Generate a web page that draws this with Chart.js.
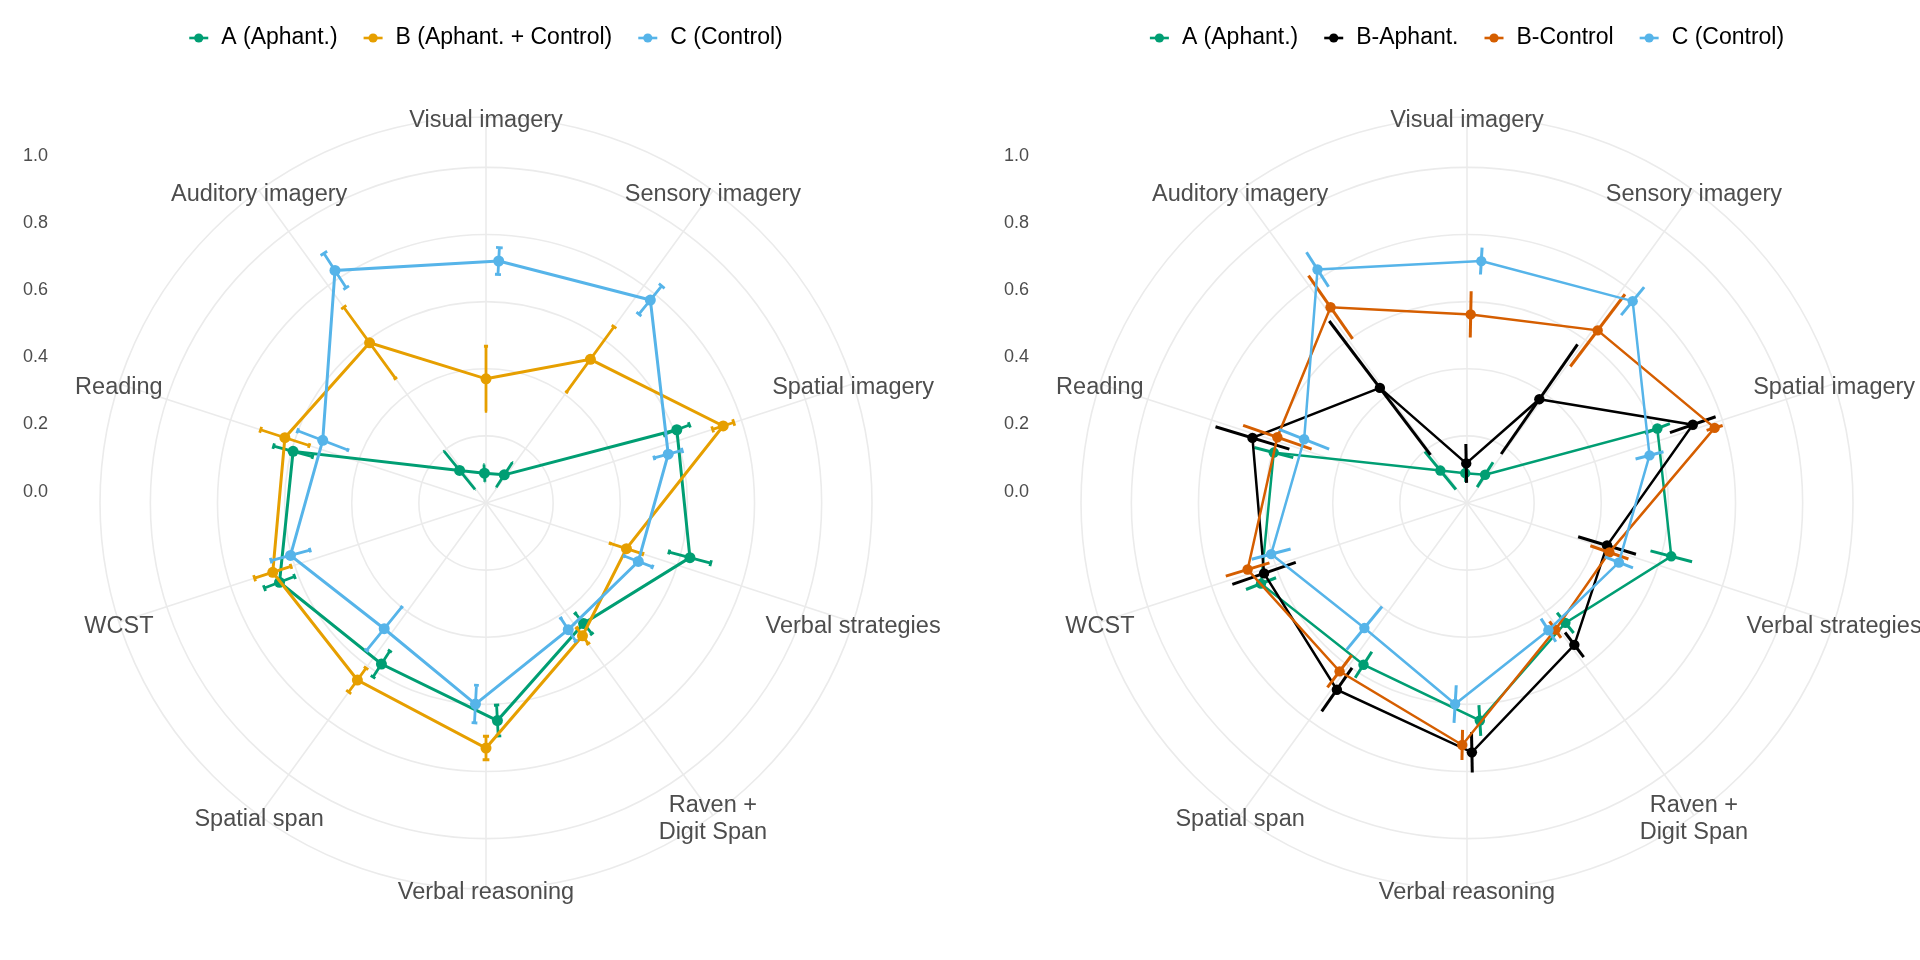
<!DOCTYPE html>
<html>
<head>
<meta charset="utf-8">
<title>Imagery profiles - radar</title>
<script src="https://cdn.jsdelivr.net/npm/chart.js@4.4.1/dist/chart.umd.min.js"></script>
<style>
    html, body { margin: 0; padding: 0; background: #ffffff; }
    body { width: 1920px; height: 960px; position: relative; overflow: hidden; }
    .panel { position: absolute; top: 0; height: 960px; }
    #panel-left { left: 0; width: 975px; }
    #panel-right { left: 981px; width: 939px; }
</style>
</head>
<body>
<div class="panel" id="panel-left"><canvas id="leftChart"></canvas></div>
<div class="panel" id="panel-right"><canvas id="rightChart"></canvas></div>

<script>
// Radar profiles: left panel has the three groups, right panel splits group B

const categories = [
    'Visual imagery', 'Sensory imagery', 'Spatial imagery', 'Verbal strategies',
    ['Raven +', 'Digit Span'], 'Verbal reasoning', 'Spatial span', 'WCST',
    'Reading', 'Auditory imagery'
];

// radial axis labels on the left
const tickValues = [0, 0.2, 0.4, 0.6, 0.8, 1.0];
// grid rings (sit just under each 0.2 label), last one is the outer circle
const ringValues = [0.16, 0.36, 0.56, 0.76, 0.96, 1.11];

// group means and error bar half-widths, in category order
const groupA = [0.049, 0.060, 0.569, 0.589, 0.422, 0.609, 0.532, 0.619, 0.555, 0.085];
const errA = [0.026, 0.044, 0.040, 0.064, 0.039, 0.046, 0.046, 0.048, 0.060, 0.073];

const groupB = [0.330, 0.489, 0.703, 0.400, 0.449, 0.690, 0.612, 0.628, 0.590, 0.550];
const errB = [0.097, 0.120, 0.033, 0.051, 0.029, 0.035, 0.044, 0.057, 0.076, 0.131];

const groupC = [0.682, 0.738, 0.522, 0.446, 0.410, 0.560, 0.442, 0.563, 0.481, 0.786];
const errC = [0.040, 0.054, 0.043, 0.045, 0.041, 0.056, 0.083, 0.060, 0.080, 0.061];

const groupBAphant = [0.078, 0.337, 0.672, 0.396, 0.490, 0.703, 0.638, 0.600, 0.628, 0.390];
const errBAphant = [0.058, 0.199, 0.072, 0.090, 0.046, 0.060, 0.079, 0.100, 0.115, 0.250];

const groupBControl = [0.522, 0.605, 0.731, 0.409, 0.420, 0.681, 0.589, 0.643, 0.558, 0.671];
const errBControl = [0.069, 0.135, 0.025, 0.060, 0.030, 0.045, 0.060, 0.068, 0.108, 0.115];

const COLORS = {
    A: '#009E73',
    B: '#E69F00',
    C: '#56B4E9',
    BAphant: '#000000',
    BControl: '#D55E00'
};

const FONT = '"Liberation Sans", Arial, Helvetica, sans-serif';
const TEXT_GREY = '#4D4D4D';
const GRID_GREY = '#EBEBEB';

// Spread values over a finer angular grid so the groups are dodged around each spoke
function dodge(values, offset, step) {
    const n = categories.length * step;
    const out = new Array(n).fill(null);
    values.forEach((v, i) => {
        out[(i * step + offset + n) % n] = v;
    });
    return out;
}

function fineLabels(step) {
    const out = [];
    for (let i = 0; i < categories.length * step; i++) {
        out.push(i % step === 0 ? categories[i / step] : '');
    }
    return out;
}

// Error bars along the radius, drawn just under each dataset's line
const errorBarPlugin = {
    id: 'errorBars',
    beforeDatasetDraw(chart, args, opts) {
        const ds = chart.data.datasets[args.index];
        if (!ds.errors) return;
        const scale = chart.scales.r;
        const ctx = chart.ctx;
        ctx.save();
        ctx.strokeStyle = ds.borderColor;
        ctx.lineWidth = opts.lineWidth;
        ctx.lineCap = 'butt';
        ds.means.forEach((m, i) => {
            const idx = i * opts.step + ds.dodgeOffset;
            const lo = m - ds.errors[i];
            const hi = m + ds.errors[i];
            const a = scale.getPointPositionForValue(idx, lo);
            const b = scale.getPointPositionForValue(idx, hi);
            ctx.beginPath();
            ctx.moveTo(a.x, a.y);
            ctx.lineTo(b.x, b.y);
            if (opts.capHalf > 0) {
                [lo, hi].forEach(v => {
                    const c1 = scale.getPointPositionForValue(idx - opts.capHalf, v);
                    const c2 = scale.getPointPositionForValue(idx + opts.capHalf, v);
                    ctx.moveTo(c1.x, c1.y);
                    ctx.lineTo(c2.x, c2.y);
                });
            }
            ctx.stroke();
        });
        ctx.restore();
    }
};

// Legend, category names and the radial axis labels
const decorPlugin = {
    id: 'radarDecor',
    afterDraw(chart, args, opts) {
        const scale = chart.scales.r;
        const ctx = chart.ctx;
        ctx.save();

        // radial axis labels, left of the panel
        ctx.font = `18px ${FONT}`;
        ctx.fillStyle = TEXT_GREY;
        ctx.textAlign = 'right';
        ctx.textBaseline = 'middle';
        tickValues.forEach(v => {
            const y = scale.yCenter - scale.getDistanceFromCenterForValue(v) + 2;
            ctx.fillText(v.toFixed(1), scale.xCenter - opts.axisOffset, y);
        });

        // category names centred on the outer circle
        ctx.font = `23.5px ${FONT}`;
        ctx.textAlign = 'center';
        categories.forEach((cat, i) => {
            const p = scale.getPointPosition(i * opts.step, scale.drawingArea);
            const lines = Array.isArray(cat) ? cat : [cat];
            lines.forEach((line, j) => {
                const dy = (j - (lines.length - 1) / 2) * 27 + 4;
                ctx.fillText(line, p.x, p.y + dy);
            });
        });

        // legend across the top
        ctx.font = `23px ${FONT}`;
        const keyW = 19, gap = 13, spacing = 26;
        const items = chart.data.datasets.map(ds => ({
            label: ds.label,
            color: ds.borderColor,
            w: ctx.measureText(ds.label).width
        }));
        let total = spacing * (items.length - 1);
        items.forEach(it => { total += keyW + gap + it.w; });
        let x = scale.xCenter - total / 2;
        const y = opts.legendY;
        ctx.textAlign = 'left';
        items.forEach(it => {
            ctx.strokeStyle = it.color;
            ctx.lineWidth = 2.6;
            ctx.beginPath();
            ctx.moveTo(x, y);
            ctx.lineTo(x + keyW, y);
            ctx.stroke();
            ctx.fillStyle = it.color;
            ctx.beginPath();
            ctx.arc(x + keyW / 2, y, 4.6, 0, Math.PI * 2);
            ctx.fill();
            ctx.fillStyle = '#000000';
            ctx.fillText(it.label, x + keyW + gap, y);
            x += keyW + gap + it.w + spacing;
        });

        ctx.restore();
    }
};

function makeDataset(label, values, errors, color, offset, step, lineWidth, radius, order) {
    return {
        label: label,
        data: dodge(values, offset, step),
        means: values,
        errors: errors,
        dodgeOffset: offset,
        borderColor: color,
        backgroundColor: color,
        borderWidth: lineWidth,
        fill: false,
        spanGaps: true,
        tension: 0,
        pointRadius: radius,
        pointHoverRadius: radius,
        pointBackgroundColor: color,
        pointBorderWidth: 0,
        order: order
    };
}

function makeRadar(canvasId, datasets, step, capHalf, errWidth, rightPad) {
    return new Chart(document.getElementById(canvasId), {
        type: 'radar',
        data: {
            labels: fineLabels(step),
            datasets: datasets
        },
        options: {
            responsive: true,
            maintainAspectRatio: false,
            animation: false,
            events: [],
            layout: {
                padding: { left: 100, top: 117, right: rightPad, bottom: 71 }
            },
            plugins: {
                legend: { display: false },
                tooltip: { enabled: false },
                errorBars: { step: step, capHalf: capHalf, lineWidth: errWidth },
                radarDecor: { step: step, axisOffset: 438, legendY: 38 }
            },
            scales: {
                r: {
                    min: -0.04,
                    max: 1.11,
                    startAngle: 0,
                    afterBuildTicks: (axis) => {
                        axis.ticks = ringValues.map(v => ({ value: v }));
                    },
                    ticks: { display: false },
                    grid: { circular: true, color: GRID_GREY, lineWidth: 1.6 },
                    angleLines: {
                        color: GRID_GREY,
                        lineWidth: (ctx) => (ctx.index % step === 0 ? 1.6 : 0)
                    },
                    pointLabels: { display: false }
                }
            }
        },
        plugins: [errorBarPlugin, decorPlugin]
    });
}

document.addEventListener('DOMContentLoaded', function() {
    // left: A / B / C, dodged by 3 degrees
    const leftStep = 12;
    makeRadar('leftChart', [
        makeDataset('A (Aphant.)', groupA, errA, COLORS.A, -1, leftStep, 3, 5.5, 3),
        makeDataset('B (Aphant. + Control)', groupB, errB, COLORS.B, 0, leftStep, 3, 5.5, 2),
        makeDataset('C (Control)', groupC, errC, COLORS.C, 1, leftStep, 3, 5.5, 1)
    ], leftStep, 0.25, 2.8, 103);

    // right: four groups, dodged by 1.125 degree steps
    const rightStep = 32;
    makeRadar('rightChart', [
        makeDataset('A (Aphant.)', groupA, errA, COLORS.A, -3, rightStep, 2.5, 5.2, 4),
        makeDataset('B-Aphant.', groupBAphant, errBAphant, COLORS.BAphant, -1, rightStep, 2.5, 5.2, 3),
        makeDataset('B-Control', groupBControl, errBControl, COLORS.BControl, 1, rightStep, 2.5, 5.2, 2),
        makeDataset('C (Control)', groupC, errC, COLORS.C, 3, rightStep, 2.5, 5.2, 1)
    ], rightStep, 0, 3, 67);
});
</script>
</body>
</html>
